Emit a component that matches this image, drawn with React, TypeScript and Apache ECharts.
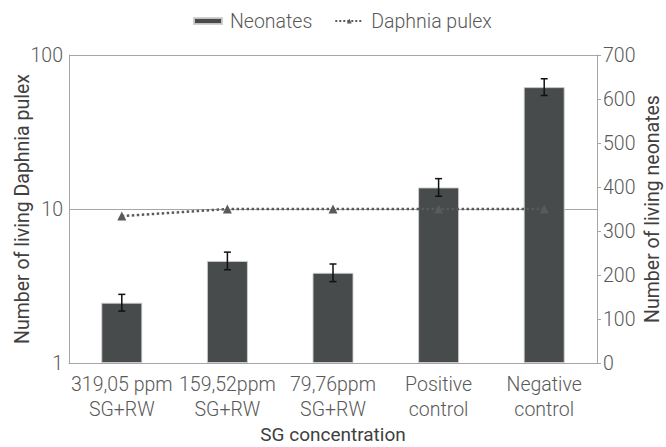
import React, { useEffect, useRef } from "react";
import * as echarts from "echarts";

const categories = [
  "319,05 ppm\nSG+RW",
  "159,52ppm\nSG+RW",
  "79,76ppm\nSG+RW",
  "Positive\ncontrol",
  "Negative\ncontrol",
];
const neonates = [137, 232, 205, 399, 627];
const neonatesErr = [19, 20, 20, 20, 19];
const daphnia = [9, 10, 10, 10, 10];
const rightTicks = [0, 100, 200, 300, 400, 500, 600, 700];

const FONT = "Roboto";
const FW = 300;
const TXT = "#595959";
const TITLE = "#404040";
const AX = "#a6a6a6";

export default function App() {
  const ref = useRef<HTMLDivElement>(null);
  useEffect(() => {
    if (!ref.current) return;
    const chart = echarts.init(ref.current, undefined, { renderer: "svg" });
    const errData = neonates.map((v, i) => [i, v - neonatesErr[i], v + neonatesErr[i]]);
    const ts = { fontFamily: FONT, fontSize: 19.5, fontWeight: FW };
    chart.setOption({
      animation: false,
      textStyle: { fontFamily: FONT },
      legend: {
        top: 6,
        left: 188,
        itemWidth: 28,
        itemHeight: 6,
        itemGap: 22,
        textStyle: { ...ts, color: TXT, padding: [0, 0, 0, 3] },
        data: [{ name: "Neonates", icon: "rect" }, { name: "Daphnia pulex" }],
      },
      grid: {
        left: 69,
        right: 69,
        top: 55,
        bottom: 84,
        containLabel: false,
        outerBoundsMode: "none",
      },
      xAxis: {
        type: "category",
        data: categories,
        name: "SG concentration",
        nameLocation: "middle",
        nameGap: 60,
        nameMoveOverlap: false,
        nameTextStyle: { ...ts, fontSize: 19, color: TITLE, fontWeight: 400, lineHeight: 22 },
        axisLine: { lineStyle: { color: AX, width: 1 } },
        axisTick: { show: false },
        axisLabel: {
          interval: 0,
          margin: 9,
          ...ts,
          lineHeight: 25,
          color: TXT,
        },
      },
      yAxis: [
        {
          type: "log",
          logBase: 10,
          min: 1,
          max: 100,
          name: "Number of living Daphnia pulex",
          nameLocation: "middle",
          nameGap: 37,
          nameMoveOverlap: false,
          nameTextStyle: { ...ts, color: TITLE, fontWeight: 400 },
          axisLine: { show: true, lineStyle: { color: AX, width: 1 } },
          axisTick: { show: false },
          axisLabel: { margin: 6, ...ts, color: TXT },
          splitLine: { show: true, lineStyle: { color: AX, width: 1 } },
        },
        {
          type: "value",
          min: rightTicks[0],
          max: rightTicks[rightTicks.length - 1],
          interval: 100,
          name: "Number of living neonates",
          nameLocation: "middle",
          nameGap: 45,
          nameMoveOverlap: false,
          nameTextStyle: { ...ts, color: TITLE, fontWeight: 400 },
          axisLine: { show: true, lineStyle: { color: AX, width: 1 } },
          axisTick: { show: true, length: 4, lineStyle: { color: AX } },
          axisLabel: { margin: 6, ...ts, color: TXT },
          splitLine: { show: false },
        },
      ],
      series: [
        {
          name: "Neonates",
          type: "bar",
          yAxisIndex: 1,
          data: neonates,
          barWidth: 41,
          itemStyle: {
            color: "#474b4b",
            borderColor: "rgba(205,205,205,0.9)",
            borderWidth: 1,
          },
          z: 2,
        },
        {
          name: "errors",
          type: "custom",
          yAxisIndex: 1,
          data: errData,
          z: 4,
          renderItem: (params: any, api: any) => {
            const x = api.value(0);
            const lo = api.coord([x, api.value(1)]);
            const hi = api.coord([x, api.value(2)]);
            const w = 3.5;
            const st = { stroke: "#111", lineWidth: 1.5 };
            return {
              type: "group",
              children: [
                { type: "line", shape: { x1: lo[0], y1: lo[1], x2: hi[0], y2: hi[1] }, style: st },
                { type: "line", shape: { x1: hi[0] - w, y1: hi[1], x2: hi[0] + w, y2: hi[1] }, style: st },
                { type: "line", shape: { x1: lo[0] - w, y1: lo[1], x2: lo[0] + w, y2: lo[1] }, style: st },
              ],
            };
          },
        },
        {
          name: "Daphnia pulex",
          type: "line",
          yAxisIndex: 0,
          data: daphnia,
          symbol: "triangle",
          symbolSize: 9,
          lineStyle: { type: "dotted", width: 2.5, color: "#5a5a5a" },
          itemStyle: { color: "#5a5a5a" },
          z: 3,
        },
      ],
    });
    return () => chart.dispose();
  }, []);
  return (
    <div
      ref={ref}
      style={{ position: "fixed", left: 0, top: 0, width: 666, height: 447, background: "#fff" }}
    />
  );
}
